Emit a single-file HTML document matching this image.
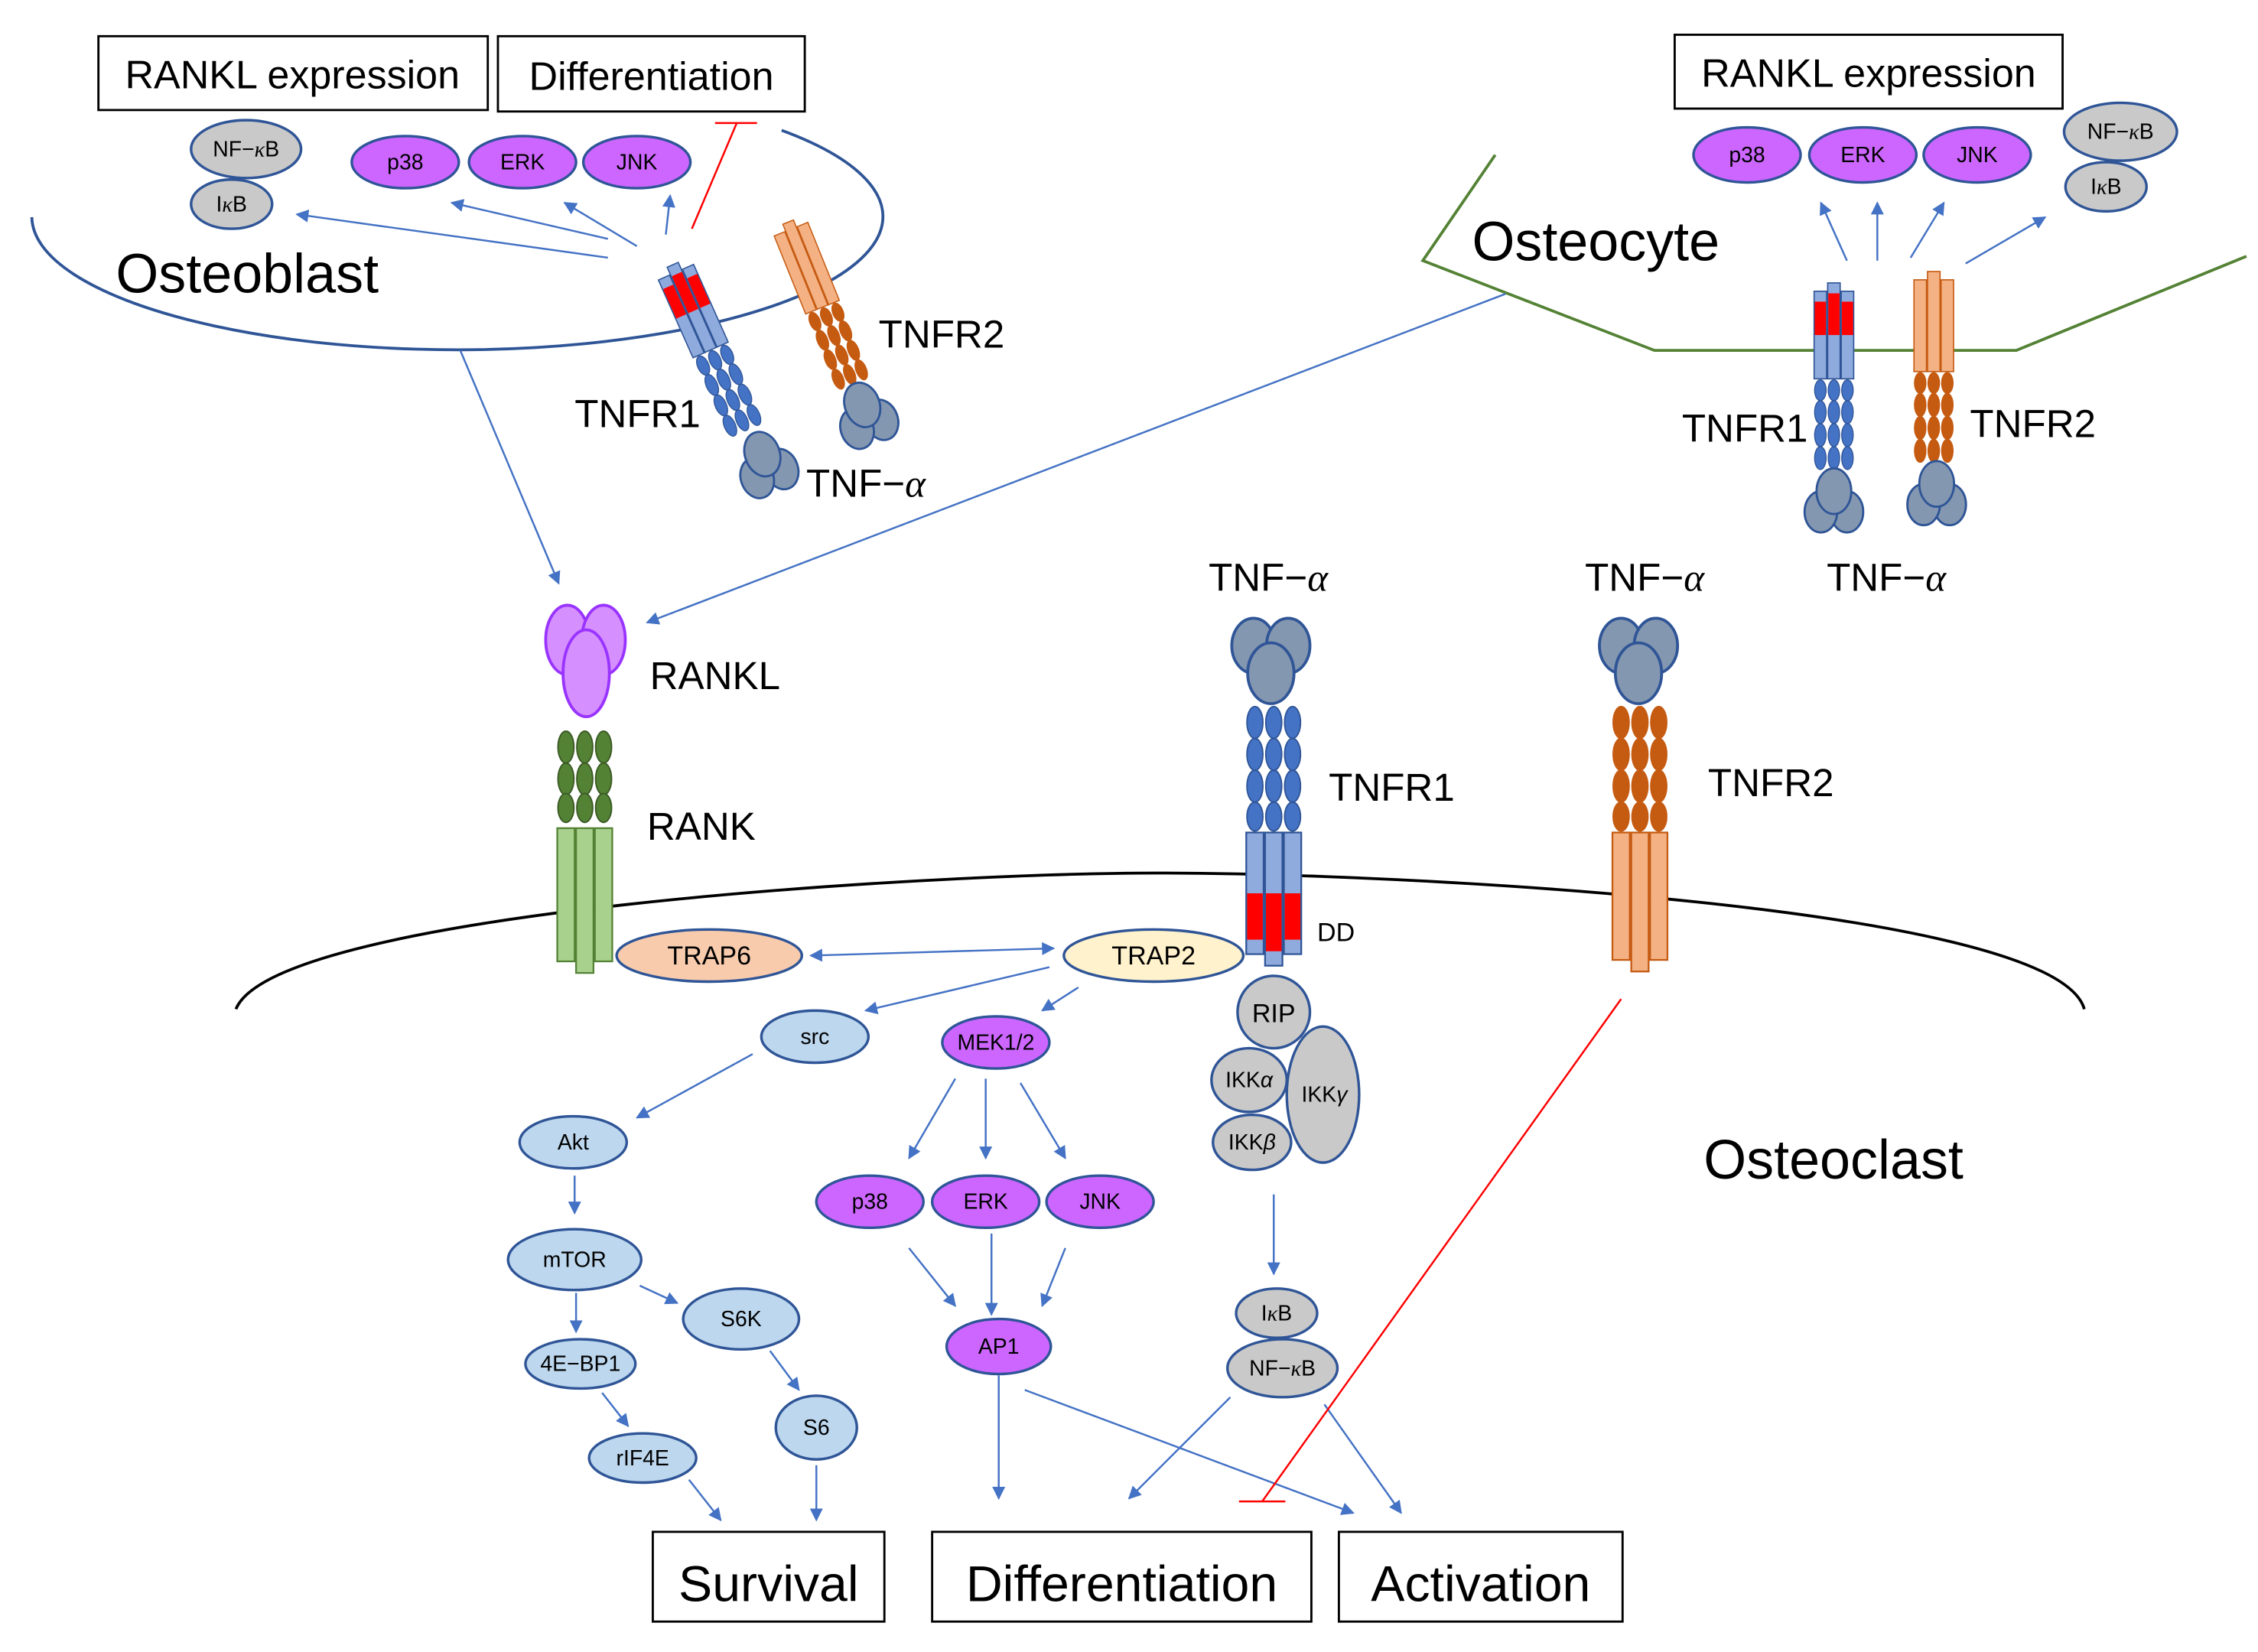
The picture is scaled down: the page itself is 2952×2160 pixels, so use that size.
<!DOCTYPE html>
<html><head><meta charset="utf-8"><style>html,body{margin:0;padding:0;background:#fff}svg{display:block}text{font-family:"Liberation Sans","Noto Sans CJK JP",sans-serif;fill:#000}</style></head>
<body>
<svg width="2952" height="2160" viewBox="0 0 1560 1141" preserveAspectRatio="none" xmlns="http://www.w3.org/2000/svg">
<defs>
<marker id="a" viewBox="0 0 10 10" refX="9" refY="5" markerWidth="9" markerHeight="9" markerUnits="userSpaceOnUse" orient="auto-start-reverse"><path d="M0,0L10,5L0,10z" fill="#4472C4"/></marker>
<g id="r1">
 <g fill="#4472C4" stroke="#2F5597" stroke-width="1">
  <ellipse cx="-13" cy="12" rx="5.5" ry="11"/><ellipse cx="-13" cy="34" rx="5.5" ry="11"/><ellipse cx="-13" cy="56" rx="5.5" ry="11"/><ellipse cx="-13" cy="77" rx="5.5" ry="10"/>
  <ellipse cx="0" cy="12" rx="5.5" ry="11"/><ellipse cx="0" cy="34" rx="5.5" ry="11"/><ellipse cx="0" cy="56" rx="5.5" ry="11"/><ellipse cx="0" cy="77" rx="5.5" ry="10"/>
  <ellipse cx="13" cy="12" rx="5.5" ry="11"/><ellipse cx="13" cy="34" rx="5.5" ry="11"/><ellipse cx="13" cy="56" rx="5.5" ry="11"/><ellipse cx="13" cy="77" rx="5.5" ry="10"/>
 </g>
 <g fill="#8FAADC" stroke="#2F5597" stroke-width="1.2">
  <rect x="-19" y="88" width="12" height="84"/><rect x="-6" y="88" width="12" height="92"/><rect x="7" y="88" width="12" height="84"/>
 </g>
 <g fill="#FF0000"><rect x="-18.4" y="130" width="10.8" height="32"/><rect x="-5.4" y="130" width="10.8" height="40"/><rect x="7.6" y="130" width="10.8" height="32"/></g>
</g>
<g id="r2">
 <g fill="#C55A11" stroke="#C55A11" stroke-width="1">
  <ellipse cx="-13" cy="12" rx="5.5" ry="11"/><ellipse cx="-13" cy="34" rx="5.5" ry="11"/><ellipse cx="-13" cy="56" rx="5.5" ry="11"/><ellipse cx="-13" cy="77" rx="5.5" ry="10"/>
  <ellipse cx="0" cy="12" rx="5.5" ry="11"/><ellipse cx="0" cy="34" rx="5.5" ry="11"/><ellipse cx="0" cy="56" rx="5.5" ry="11"/><ellipse cx="0" cy="77" rx="5.5" ry="10"/>
  <ellipse cx="13" cy="12" rx="5.5" ry="11"/><ellipse cx="13" cy="34" rx="5.5" ry="11"/><ellipse cx="13" cy="56" rx="5.5" ry="11"/><ellipse cx="13" cy="77" rx="5.5" ry="10"/>
 </g>
 <g fill="#F4B183" stroke="#C55A11" stroke-width="1.2">
  <rect x="-19" y="88" width="12" height="88"/><rect x="-6" y="88" width="12" height="96"/><rect x="7" y="88" width="12" height="88"/>
 </g>
</g>
<g id="tnf" fill="#8497B0" stroke="#2F5597" stroke-width="2">
 <ellipse cx="-12" cy="-10" rx="15" ry="19"/><ellipse cx="12" cy="-10" rx="15" ry="19"/><ellipse cx="0" cy="9" rx="16" ry="21"/>
</g>
</defs>

<path d="M22,150 A294,92 0 1,0 540,90" fill="none" stroke="#2F5597" stroke-width="2"/>
<polyline points="1033,107 983,180 1143,242 1393,242 1552,177" fill="none" stroke="#548235" stroke-width="2"/>
<path d="M163,697 C190,630 640,603 800,603 C960,603 1420,625 1440,697" fill="none" stroke="#000" stroke-width="2"/>

<g fill="#fff" stroke="#000" stroke-width="1.5">
<rect x="68" y="25" width="269" height="51"/><rect x="344" y="25" width="212" height="52"/><rect x="1157" y="24" width="268" height="51"/>
<rect x="451" y="1058" width="160" height="62"/><rect x="644" y="1058" width="262" height="62"/><rect x="925" y="1058" width="196" height="62"/>
</g>
<g font-size="27.5" text-anchor="middle">
<text x="202" y="61">RANKL expression</text><text x="450" y="62">Differentiation</text><text x="1291" y="60">RANKL expression</text>
</g>
<g font-size="35" text-anchor="middle">
<text x="531" y="1106">Survival</text><text x="775" y="1106">Differentiation</text><text x="1023" y="1106">Activation</text>
</g>

<use href="#r1" transform="translate(516,298) rotate(156) scale(0.7)"/>
<use href="#r2" transform="translate(590,266) rotate(158) scale(0.66)"/>
<use href="#tnf" transform="translate(529,320) rotate(160) scale(0.75)"/>
<use href="#tnf" transform="translate(598,286) rotate(160) scale(0.75)"/>
<use href="#r1" transform="translate(1267,325) rotate(180) scale(0.72,0.72)"/>
<use href="#r2" transform="translate(1336,320) rotate(180) scale(0.72,0.72)"/>
<use href="#tnf" transform="translate(1267,346) rotate(180) scale(0.75)"/>
<use href="#tnf" transform="translate(1338,341) rotate(180) scale(0.75)"/>
<use href="#r1" transform="translate(880,487)"/>
<use href="#r2" transform="translate(1133,487)"/>
<use href="#tnf" transform="translate(878,456)"/>
<use href="#tnf" transform="translate(1132,456)"/>
<g fill="#548235" stroke="#3A5A24">
<ellipse cx="391" cy="516" rx="5.5" ry="11"/><ellipse cx="391" cy="538" rx="5.5" ry="11"/><ellipse cx="391" cy="558" rx="5.5" ry="10"/>
<ellipse cx="404" cy="516" rx="5.5" ry="11"/><ellipse cx="404" cy="538" rx="5.5" ry="11"/><ellipse cx="404" cy="558" rx="5.5" ry="10"/>
<ellipse cx="417" cy="516" rx="5.5" ry="11"/><ellipse cx="417" cy="538" rx="5.5" ry="11"/><ellipse cx="417" cy="558" rx="5.5" ry="10"/>
</g>
<g fill="#A9D18E" stroke="#548235" stroke-width="1.2">
<rect x="385" y="572" width="12" height="92"/><rect x="398" y="572" width="12" height="100"/><rect x="411" y="572" width="12" height="92"/>
</g>
<g fill="#D68FFF" stroke="#9933FF" stroke-width="2">
<ellipse cx="392" cy="442" rx="15" ry="24"/><ellipse cx="417" cy="442" rx="15" ry="24"/><ellipse cx="405" cy="465" rx="16" ry="30"/>
</g>

<g font-size="38"><text x="80" y="202">Osteoblast</text><text x="1017" y="180">Osteocyte</text><text x="1177" y="814">Osteoclast</text></g>
<g font-size="27">
<text x="607" y="240">TNFR2</text><text x="397" y="295">TNFR1</text><text x="557" y="343">TNF−<tspan font-style="italic" font-family="Liberation Serif">α</tspan></text>
<text x="1162" y="305">TNFR1</text><text x="1361" y="302">TNFR2</text>
<text x="1262" y="408">TNF−<tspan font-style="italic" font-family="Liberation Serif">α</tspan></text>
<text x="835" y="408">TNF−<tspan font-style="italic" font-family="Liberation Serif">α</tspan></text>
<text x="1095" y="408">TNF−<tspan font-style="italic" font-family="Liberation Serif">α</tspan></text>
<text x="449" y="476">RANKL</text><text x="447" y="580">RANK</text><text x="918" y="553">TNFR1</text><text x="1180" y="550">TNFR2</text>
</g>
<text x="910" y="650" font-size="18">DD</text>

<g stroke="#2F5597" stroke-width="1.8">
<g fill="#C9C9C9">
<ellipse cx="170" cy="103" rx="38" ry="20"/><ellipse cx="160" cy="141" rx="28" ry="17"/>
<ellipse cx="1465" cy="91" rx="39" ry="20"/><ellipse cx="1455" cy="129" rx="28" ry="17"/>
<circle cx="880" cy="699" r="25"/><ellipse cx="914" cy="756" rx="25" ry="47"/><ellipse cx="863" cy="746" rx="26" ry="22"/><ellipse cx="865" cy="789" rx="27" ry="19"/>
<ellipse cx="882" cy="907" rx="28" ry="17"/><ellipse cx="886" cy="945" rx="38" ry="20"/>
</g>
<g fill="#CC66FF">
<ellipse cx="280" cy="112" rx="37" ry="18"/><ellipse cx="361" cy="112" rx="37" ry="18"/><ellipse cx="440" cy="112" rx="37" ry="18"/>
<ellipse cx="1207" cy="107" rx="37" ry="19"/><ellipse cx="1287" cy="107" rx="37" ry="19"/><ellipse cx="1366" cy="107" rx="37" ry="19"/>
<ellipse cx="688" cy="720" rx="37" ry="18"/><ellipse cx="601" cy="830" rx="37" ry="18"/><ellipse cx="681" cy="830" rx="37" ry="18"/><ellipse cx="760" cy="830" rx="37" ry="18"/><ellipse cx="690" cy="930" rx="36" ry="19"/>
</g>
<ellipse cx="490" cy="660" rx="64" ry="18" fill="#F8CBAD"/>
<ellipse cx="797" cy="660" rx="62" ry="18" fill="#FFF2CC"/>
<g fill="#BDD7EE">
<ellipse cx="563" cy="716" rx="37" ry="18"/><ellipse cx="396" cy="789" rx="37" ry="18"/><ellipse cx="397" cy="870" rx="46" ry="21"/><ellipse cx="512" cy="911" rx="40" ry="21"/>
<ellipse cx="401" cy="942" rx="38" ry="17"/><ellipse cx="564" cy="986" rx="28" ry="22"/><ellipse cx="444" cy="1007" rx="37" ry="17"/>
</g>
</g>
<g font-size="15" text-anchor="middle">
<text x="170" y="108">NF−<tspan font-family="Liberation Serif" font-style="italic">κ</tspan>B</text><text x="160" y="146">I<tspan font-family="Liberation Serif" font-style="italic">κ</tspan>B</text>
<text x="1465" y="96">NF−<tspan font-family="Liberation Serif" font-style="italic">κ</tspan>B</text><text x="1455" y="134">I<tspan font-family="Liberation Serif" font-style="italic">κ</tspan>B</text>
<text x="280" y="117">p38</text><text x="361" y="117">ERK</text><text x="440" y="117">JNK</text>
<text x="1207" y="112">p38</text><text x="1287" y="112">ERK</text><text x="1366" y="112">JNK</text>
<text x="688" y="725">MEK1/2</text><text x="601" y="835">p38</text><text x="681" y="835">ERK</text><text x="760" y="835">JNK</text><text x="690" y="935">AP1</text>
<text x="563" y="721">src</text><text x="396" y="794">Akt</text><text x="397" y="875">mTOR</text><text x="512" y="916">S6K</text><text x="401" y="947">4E−BP1</text><text x="564" y="991">S6</text><text x="444" y="1012">rIF4E</text>
<text x="882" y="912">I<tspan font-family="Liberation Serif" font-style="italic">κ</tspan>B</text><text x="886" y="950">NF−<tspan font-family="Liberation Serif" font-style="italic">κ</tspan>B</text>
<text x="863" y="751" font-family="Liberation Serif">IKK<tspan font-style="italic">α</tspan></text>
<text x="865" y="794" font-family="Liberation Serif">IKK<tspan font-style="italic">β</tspan></text>
<text x="915" y="761" font-family="Liberation Serif">IKK<tspan font-style="italic">γ</tspan></text>
</g>
<g font-size="18" text-anchor="middle"><text x="490" y="666">TRAP6</text><text x="797" y="666">TRAP2</text><text x="880" y="706">RIP</text></g>

<g stroke="#4472C4" stroke-width="1.3" fill="none" marker-end="url(#a)">
<line x1="420" y1="178" x2="205" y2="148"/><line x1="420" y1="165" x2="312" y2="140"/><line x1="440" y1="170" x2="390" y2="140"/><line x1="460" y1="162" x2="463" y2="135"/>
<line x1="318" y1="242" x2="386" y2="403"/><line x1="1040" y1="203" x2="447" y2="430"/>
<line x1="1276" y1="180" x2="1258" y2="140"/><line x1="1297" y1="180" x2="1297" y2="140"/><line x1="1320" y1="178" x2="1343" y2="140"/><line x1="1358" y1="182" x2="1413" y2="150"/>
<line x1="560" y1="660" x2="728" y2="655" marker-start="url(#a)"/>
<line x1="725" y1="668" x2="598" y2="698"/><line x1="745" y1="682" x2="720" y2="698"/>
<line x1="520" y1="728" x2="440" y2="772"/><line x1="397" y1="812" x2="397" y2="838"/><line x1="442" y1="888" x2="468" y2="900"/><line x1="398" y1="893" x2="398" y2="920"/>
<line x1="532" y1="933" x2="552" y2="960"/><line x1="416" y1="962" x2="434" y2="985"/><line x1="564" y1="1012" x2="564" y2="1050"/><line x1="476" y1="1022" x2="498" y2="1050"/>
<line x1="660" y1="745" x2="628" y2="800"/><line x1="681" y1="745" x2="681" y2="800"/><line x1="705" y1="748" x2="736" y2="800"/>
<line x1="628" y1="862" x2="660" y2="902"/><line x1="685" y1="852" x2="685" y2="908"/><line x1="736" y1="862" x2="720" y2="902"/>
<line x1="690" y1="950" x2="690" y2="1035"/><line x1="708" y1="960" x2="935" y2="1045"/>
<line x1="880" y1="825" x2="880" y2="880"/><line x1="850" y1="965" x2="780" y2="1035"/><line x1="915" y1="970" x2="968" y2="1045"/>
</g>
<g stroke="#FF0000" stroke-width="1.3">
<line x1="478" y1="158" x2="509" y2="85"/><line x1="494" y1="85" x2="523" y2="85"/>
<line x1="1120" y1="690" x2="872" y2="1037"/><line x1="856" y1="1037" x2="888" y2="1037"/>
</g>
</svg>
</body></html>
